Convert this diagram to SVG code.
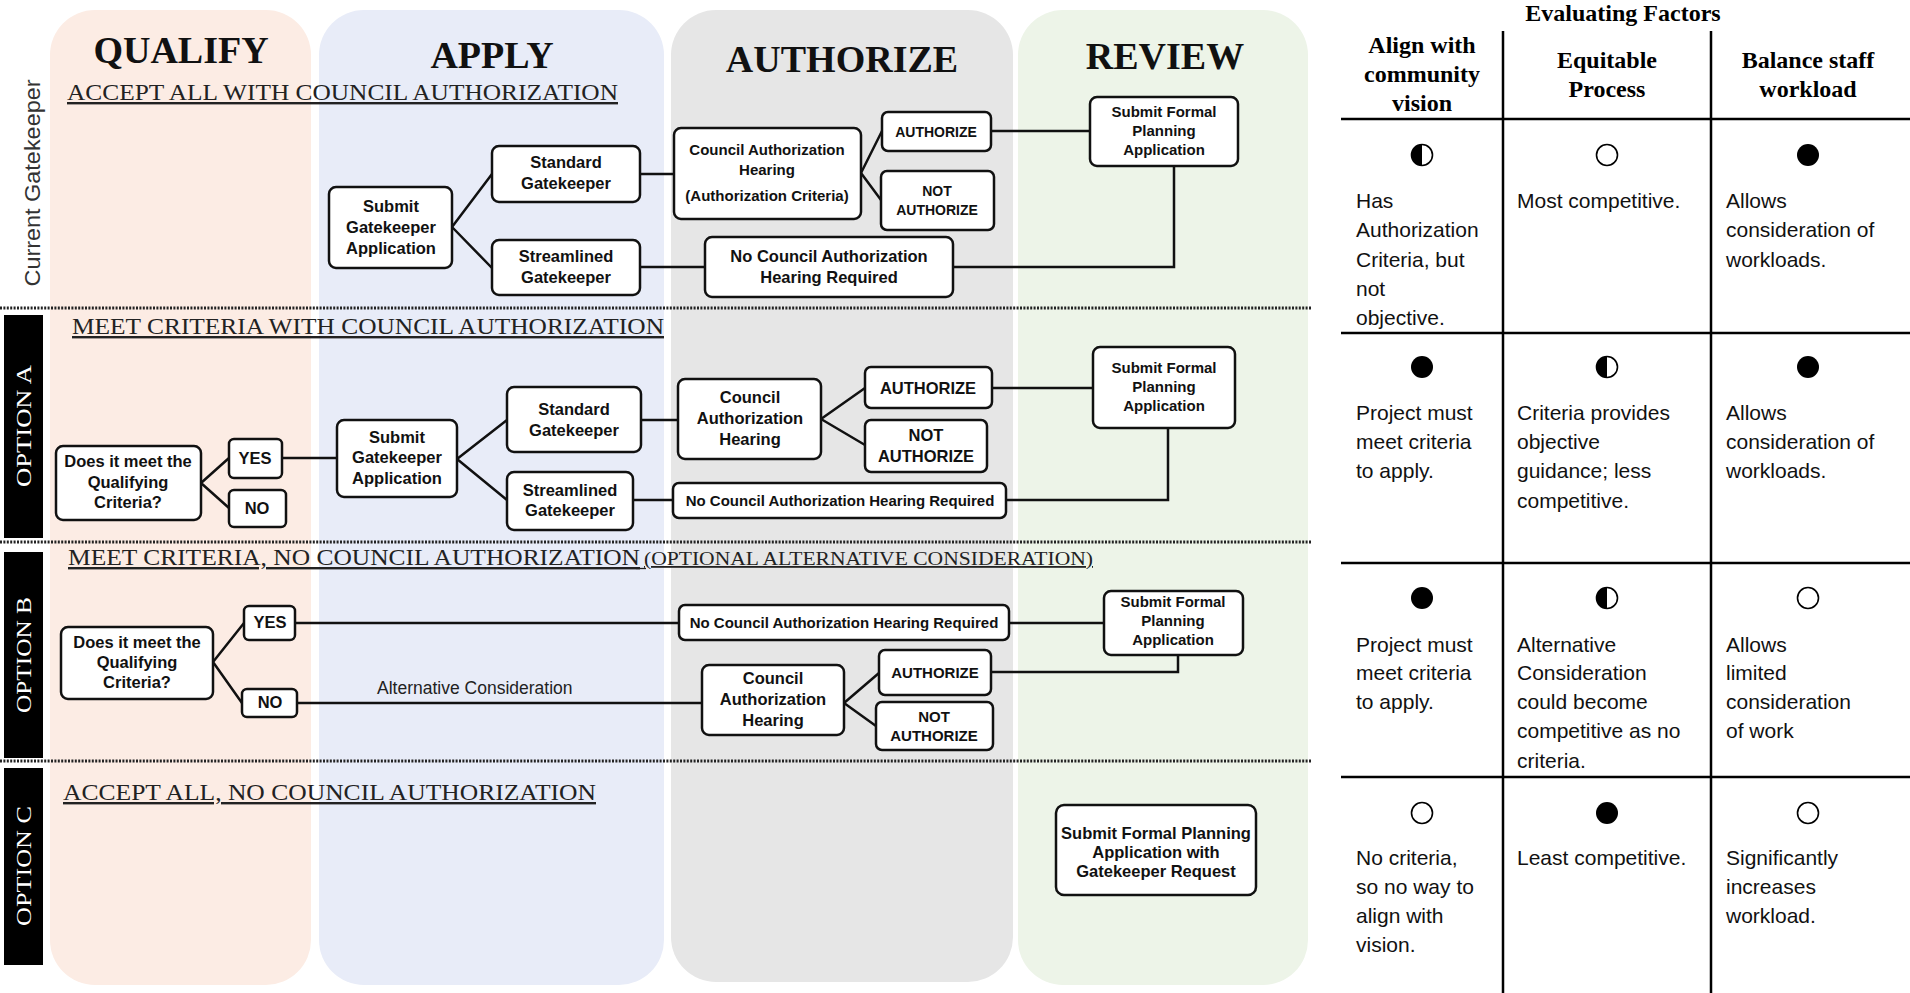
<svg xmlns="http://www.w3.org/2000/svg" width="1910" height="993" viewBox="0 0 1910 993">
<style>
.lane{stroke:none}
.lt{font-family:"Liberation Serif",serif;font-weight:bold;font-size:38px;text-anchor:middle;fill:#111}
.hdr{font-family:"Liberation Serif",serif;font-size:24px;fill:#222;text-decoration:underline}
.hdrs{font-size:18px}
.box{fill:#fff;stroke:#111;stroke-width:2.5}
.bt{font-family:"Liberation Sans",Arial,sans-serif;font-weight:bold;font-size:16.5px;text-anchor:middle;fill:#111}
.s15{font-size:15px}
.s14{font-size:14px}
.conn{stroke:#111;stroke-width:2.5;fill:none}
.dots{stroke:#222;stroke-width:3;stroke-dasharray:2 1.4}
.bar{fill:#000}
.opt{font-family:"Liberation Serif",serif;font-size:22px;fill:#fff;text-anchor:middle}
.th{font-family:"Liberation Serif",serif;font-weight:bold;font-size:24px;text-anchor:middle;fill:#000}
.td{font-family:"Liberation Sans",Arial,sans-serif;font-size:21px;fill:#111}
.grid{stroke:#000;stroke-width:2.5}
.sym{stroke:#000;stroke-width:1.6}
.lbl{font-family:"Liberation Sans",Arial,sans-serif;font-size:17.5px;fill:#222}
</style>
<rect width="1910" height="993" fill="#fff"/>
<g id="lanes">
<rect class="lane" x="50" y="10" width="261" height="975" rx="45" fill="#fcece4"/>
<rect class="lane" x="319" y="10" width="345" height="975" rx="45" fill="#e8ecf8"/>
<rect class="lane" x="671" y="10" width="342" height="972" rx="45" fill="#e6e6e6"/>
<rect class="lane" x="1018" y="10" width="290" height="975" rx="45" fill="#edf4e8"/>
<text class="lt" x="181" y="63">QUALIFY</text>
<text class="lt" x="492" y="68">APPLY</text>
<text class="lt" x="842" y="72">AUTHORIZE</text>
<text class="lt" x="1165" y="69">REVIEW</text>
</g>
<g id="separators">
<line class="dots" x1="0" y1="308" x2="1312" y2="308"/>
<line class="dots" x1="0" y1="542" x2="1312" y2="542"/>
<line class="dots" x1="0" y1="761" x2="1312" y2="761"/>
</g>
<g id="row-labels">
<text x="0" y="0" transform="translate(40,183) rotate(-90)" font-family="Liberation Sans, Arial, sans-serif" font-size="22" fill="#333" text-anchor="middle" textLength="207" lengthAdjust="spacingAndGlyphs">Current Gatekeeper</text>
<rect class="bar" x="4" y="315" width="39" height="223"/>
<text class="opt" transform="translate(31,426) rotate(-90)" textLength="122" lengthAdjust="spacingAndGlyphs">OPTION A</text>
<rect class="bar" x="4" y="552" width="39" height="206"/>
<text class="opt" transform="translate(31,655) rotate(-90)" textLength="116" lengthAdjust="spacingAndGlyphs">OPTION B</text>
<rect class="bar" x="4" y="768" width="39" height="197"/>
<text class="opt" transform="translate(31,866) rotate(-90)" textLength="120" lengthAdjust="spacingAndGlyphs">OPTION C</text>
</g>
<g id="section-headers">
<text class="hdr" x="67" y="100" textLength="551" lengthAdjust="spacingAndGlyphs">ACCEPT ALL WITH COUNCIL AUTHORIZATION</text>
<text class="hdr" x="72" y="334" textLength="592" lengthAdjust="spacingAndGlyphs">MEET CRITERIA WITH COUNCIL AUTHORIZATION</text>
<text class="hdr" x="68" y="565" textLength="572" lengthAdjust="spacingAndGlyphs">MEET CRITERIA, NO COUNCIL AUTHORIZATION</text>
<text class="hdr hdrs" x="644" y="565" textLength="449" lengthAdjust="spacingAndGlyphs">(OPTIONAL ALTERNATIVE CONSIDERATION)</text>
<line x1="636" y1="568.5" x2="646" y2="568.5" stroke="#222" stroke-width="1.3"/>
<text class="hdr" x="63" y="800" textLength="533" lengthAdjust="spacingAndGlyphs">ACCEPT ALL, NO COUNCIL AUTHORIZATION</text>
</g>
<g id="connectors">
<path class="conn" d="M452 227 L492 174 M452 227 L492 268"/>
<path class="conn" d="M640 174 H674"/>
<path class="conn" d="M861 173 L882 131 M861 173 L881 200"/>
<path class="conn" d="M991 131 H1090"/>
<path class="conn" d="M640 267 H705"/>
<path class="conn" d="M953 267 H1174 V166"/>
<path class="conn" d="M201 483 L229 458 M201 483 L229 508"/>
<path class="conn" d="M282 458 H337"/>
<path class="conn" d="M457 459 L507 420 M457 459 L507 500"/>
<path class="conn" d="M641 420 H678"/>
<path class="conn" d="M821 419 L865 388 M821 419 L865 445"/>
<path class="conn" d="M992 388 H1093"/>
<path class="conn" d="M633 500 H673"/>
<path class="conn" d="M1006 500 H1168 V428"/>
<path class="conn" d="M213 662 L244 623 M213 662 L242 703"/>
<path class="conn" d="M295 623 H679"/>
<path class="conn" d="M1009 623 H1104"/>
<path class="conn" d="M297 703 H702"/>
<path class="conn" d="M844 703 L879 673 M844 703 L876 726"/>
<path class="conn" d="M991 672 H1178 V655"/>
</g>
<text class="lbl" x="377" y="694">Alternative Consideration</text>

<g id="cg-submit"><rect class="box" x="329" y="187" width="123" height="81" rx="7"/><text class="bt"><tspan x="391" y="212">Submit</tspan><tspan x="391" y="233">Gatekeeper</tspan><tspan x="391" y="254">Application</tspan></text></g>
<g id="cg-standard"><rect class="box" x="492" y="146" width="148" height="56" rx="7"/><text class="bt"><tspan x="566" y="168">Standard</tspan><tspan x="566" y="189">Gatekeeper</tspan></text></g>
<g id="cg-streamlined"><rect class="box" x="492" y="240" width="148" height="55" rx="7"/><text class="bt"><tspan x="566" y="262">Streamlined</tspan><tspan x="566" y="283">Gatekeeper</tspan></text></g>
<g id="cg-council"><rect class="box" x="674" y="128" width="187" height="91" rx="7"/><text class="bt s15"><tspan x="767" y="155">Council Authorization</tspan><tspan x="767" y="175">Hearing</tspan><tspan x="767" y="201">(Authorization Criteria)</tspan></text></g>
<g id="cg-authorize"><rect class="box" x="882" y="112" width="109" height="39" rx="6"/><text class="bt s14" x="936" y="137">AUTHORIZE</text></g>
<g id="cg-notauth"><rect class="box" x="881" y="171" width="113" height="59" rx="6"/><text class="bt s14"><tspan x="937" y="196">NOT</tspan><tspan x="937" y="215">AUTHORIZE</tspan></text></g>
<g id="cg-nohearing"><rect class="box" x="705" y="237" width="248" height="60" rx="7"/><text class="bt"><tspan x="829" y="262">No Council Authorization</tspan><tspan x="829" y="283">Hearing Required</tspan></text></g>
<g id="cg-formal"><rect class="box" x="1090" y="97" width="148" height="69" rx="7"/><text class="bt s15"><tspan x="1164" y="117">Submit Formal</tspan><tspan x="1164" y="136">Planning</tspan><tspan x="1164" y="155">Application</tspan></text></g>

<g id="a-qualify"><rect class="box" x="56" y="446" width="145" height="74" rx="7"/><text class="bt" font-size="16"><tspan x="128" y="467">Does it meet the</tspan><tspan x="128" y="488">Qualifying</tspan><tspan x="128" y="508">Criteria?</tspan></text></g>
<g id="a-yes"><rect class="box" x="229" y="439" width="53" height="39" rx="5"/><text class="bt" font-size="15" x="255" y="464">YES</text></g>
<g id="a-no"><rect class="box" x="229" y="490" width="57" height="37" rx="5"/><text class="bt" font-size="15" x="257" y="514">NO</text></g>
<g id="a-submit"><rect class="box" x="337" y="420" width="120" height="77" rx="7"/><text class="bt"><tspan x="397" y="443">Submit</tspan><tspan x="397" y="463">Gatekeeper</tspan><tspan x="397" y="484">Application</tspan></text></g>
<g id="a-standard"><rect class="box" x="507" y="387" width="134" height="65" rx="7"/><text class="bt"><tspan x="574" y="415">Standard</tspan><tspan x="574" y="436">Gatekeeper</tspan></text></g>
<g id="a-streamlined"><rect class="box" x="507" y="472" width="126" height="58" rx="7"/><text class="bt"><tspan x="570" y="496">Streamlined</tspan><tspan x="570" y="516">Gatekeeper</tspan></text></g>
<g id="a-council"><rect class="box" x="678" y="379" width="143" height="80" rx="7"/><text class="bt"><tspan x="750" y="403">Council</tspan><tspan x="750" y="424">Authorization</tspan><tspan x="750" y="445">Hearing</tspan></text></g>
<g id="a-authorize"><rect class="box" x="865" y="367" width="127" height="41" rx="6"/><text class="bt" font-size="16" x="928" y="394">AUTHORIZE</text></g>
<g id="a-notauth"><rect class="box" x="865" y="420" width="122" height="52" rx="6"/><text class="bt" font-size="16"><tspan x="926" y="441">NOT</tspan><tspan x="926" y="462">AUTHORIZE</tspan></text></g>
<g id="a-nohearing"><rect class="box" x="673" y="483" width="333" height="35" rx="6"/><text class="bt s15" x="840" y="506">No Council Authorization Hearing Required</text></g>
<g id="a-formal"><rect class="box" x="1093" y="347" width="142" height="81" rx="7"/><text class="bt s15"><tspan x="1164" y="373">Submit Formal</tspan><tspan x="1164" y="392">Planning</tspan><tspan x="1164" y="411">Application</tspan></text></g>

<g id="b-qualify"><rect class="box" x="61" y="627" width="152" height="72" rx="7"/><text class="bt" font-size="16"><tspan x="137" y="648">Does it meet the</tspan><tspan x="137" y="668">Qualifying</tspan><tspan x="137" y="688">Criteria?</tspan></text></g>
<g id="b-yes"><rect class="box" x="244" y="606" width="51" height="34" rx="5"/><text class="bt" font-size="14" x="270" y="628">YES</text></g>
<g id="b-no"><rect class="box" x="242" y="689" width="55" height="28" rx="5"/><text class="bt" font-size="14" x="270" y="708">NO</text></g>
<g id="b-nohearing"><rect class="box" x="679" y="605" width="330" height="35" rx="6"/><text class="bt s15" x="844" y="628">No Council Authorization Hearing Required</text></g>
<g id="b-formal"><rect class="box" x="1104" y="591" width="139" height="64" rx="7"/><text class="bt s15"><tspan x="1173" y="607">Submit Formal</tspan><tspan x="1173" y="626">Planning</tspan><tspan x="1173" y="645">Application</tspan></text></g>
<g id="b-council"><rect class="box" x="702" y="665" width="142" height="70" rx="7"/><text class="bt"><tspan x="773" y="684">Council</tspan><tspan x="773" y="705">Authorization</tspan><tspan x="773" y="726">Hearing</tspan></text></g>
<g id="b-authorize"><rect class="box" x="879" y="650" width="112" height="45" rx="6"/><text class="bt s15" x="935" y="678">AUTHORIZE</text></g>
<g id="b-notauth"><rect class="box" x="876" y="702" width="117" height="48" rx="6"/><text class="bt s15"><tspan x="934" y="722">NOT</tspan><tspan x="934" y="741">AUTHORIZE</tspan></text></g>

<g id="c-formal"><rect class="box" x="1056" y="805" width="200" height="90" rx="8"/><text class="bt"><tspan x="1156" y="839">Submit Formal Planning</tspan><tspan x="1156" y="858">Application with</tspan><tspan x="1156" y="877">Gatekeeper Request</tspan></text></g>

<g id="table">
<text class="th" x="1623" y="21">Evaluating Factors</text>
<line class="grid" x1="1503" y1="31" x2="1503" y2="993"/>
<line class="grid" x1="1711" y1="31" x2="1711" y2="993"/>
<line class="grid" x1="1341" y1="119" x2="1910" y2="119"/>
<line class="grid" x1="1341" y1="333" x2="1910" y2="333"/>
<line class="grid" x1="1341" y1="563" x2="1910" y2="563"/>
<line class="grid" x1="1341" y1="777" x2="1910" y2="777"/>
<text class="th"><tspan x="1422" y="53">Align with</tspan><tspan x="1422" y="82">community</tspan><tspan x="1422" y="111">vision</tspan></text>
<text class="th"><tspan x="1607" y="68">Equitable</tspan><tspan x="1607" y="97">Process</tspan></text>
<text class="th"><tspan x="1808" y="68">Balance staff</tspan><tspan x="1808" y="97">workload</tspan></text>
</g>
<defs>
<g id="half"><circle r="10.5" fill="#fff" class="sym"/><path d="M0 -10.5 A10.5 10.5 0 0 0 0 10.5 Z" fill="#000"/></g>
<circle id="full" r="11" fill="#000"/>
<circle id="empty" r="10.5" fill="#fff" class="sym"/>
</defs>
<g id="row1">
<use href="#half" x="1422" y="155"/><use href="#empty" x="1607" y="155"/><use href="#full" x="1808" y="155"/>
<text class="td"><tspan x="1356" y="208">Has</tspan><tspan x="1356" y="237">Authorization</tspan><tspan x="1356" y="267">Criteria, but</tspan><tspan x="1356" y="296">not</tspan><tspan x="1356" y="325">objective.</tspan></text>
<text class="td" x="1517" y="208">Most competitive.</text>
<text class="td"><tspan x="1726" y="208">Allows</tspan><tspan x="1726" y="237">consideration of</tspan><tspan x="1726" y="267">workloads.</tspan></text>
</g>
<g id="row2">
<use href="#full" x="1422" y="367"/><use href="#half" x="1607" y="367"/><use href="#full" x="1808" y="367"/>
<text class="td"><tspan x="1356" y="420">Project must</tspan><tspan x="1356" y="449">meet criteria</tspan><tspan x="1356" y="478">to apply.</tspan></text>
<text class="td"><tspan x="1517" y="420">Criteria provides</tspan><tspan x="1517" y="449">objective</tspan><tspan x="1517" y="478">guidance; less</tspan><tspan x="1517" y="508">competitive.</tspan></text>
<text class="td"><tspan x="1726" y="420">Allows</tspan><tspan x="1726" y="449">consideration of</tspan><tspan x="1726" y="478">workloads.</tspan></text>
</g>
<g id="row3">
<use href="#full" x="1422" y="598"/><use href="#half" x="1607" y="598"/><use href="#empty" x="1808" y="598"/>
<text class="td"><tspan x="1356" y="652">Project must</tspan><tspan x="1356" y="680">meet criteria</tspan><tspan x="1356" y="709">to apply.</tspan></text>
<text class="td"><tspan x="1517" y="652">Alternative</tspan><tspan x="1517" y="680">Consideration</tspan><tspan x="1517" y="709">could become</tspan><tspan x="1517" y="738">competitive as no</tspan><tspan x="1517" y="768">criteria.</tspan></text>
<text class="td"><tspan x="1726" y="652">Allows</tspan><tspan x="1726" y="680">limited</tspan><tspan x="1726" y="709">consideration</tspan><tspan x="1726" y="738">of work</tspan></text>
</g>
<g id="row4">
<use href="#empty" x="1422" y="813"/><use href="#full" x="1607" y="813"/><use href="#empty" x="1808" y="813"/>
<text class="td"><tspan x="1356" y="865">No criteria,</tspan><tspan x="1356" y="894">so no way to</tspan><tspan x="1356" y="923">align with</tspan><tspan x="1356" y="952">vision.</tspan></text>
<text class="td" x="1517" y="865">Least competitive.</text>
<text class="td"><tspan x="1726" y="865">Significantly</tspan><tspan x="1726" y="894">increases</tspan><tspan x="1726" y="923">workload.</tspan></text>
</g>
</svg>
